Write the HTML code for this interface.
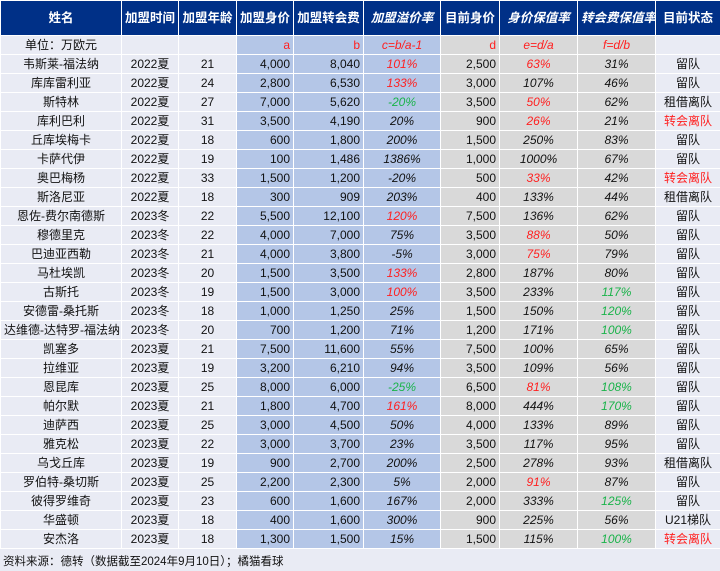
<!DOCTYPE html>
<html><head><meta charset="utf-8"><style>
html,body{margin:0;padding:0;width:720px;height:571px;overflow:hidden;background:#e9ebf4;}
table{border-collapse:collapse;table-layout:fixed;width:720px;font-family:"Liberation Sans","Noto Sans CJK SC",sans-serif;font-size:12px;color:#111;}
td,th{border:1px solid #fff;padding:0 3px;white-space:nowrap;overflow:hidden;height:18px;line-height:18px;}
th{background:#003087;color:#fff;font-weight:bold;height:34px;font-size:12.5px;}
th.i{font-style:italic}
td{text-align:center;background:#e9ebf4;}
td.a{background:#b4c6e7;text-align:right;}
td.c{background:#b4c6e7;text-align:center;font-style:italic;}
td.d{background:#d9d9d9;text-align:right;}
td.e{background:#d9d9d9;text-align:center;font-style:italic;}
.r{color:#ff2020}.g{color:#1ab34a}
.n{font-style:normal}
.foot{font-family:"Liberation Sans","Noto Sans CJK SC",sans-serif;font-size:11.5px;padding:4px 3px;color:#111;}
</style></head><body>
<table>
<colgroup><col style="width:121px"><col style="width:57px"><col style="width:58px"><col style="width:57px"><col style="width:70px"><col style="width:77px"><col style="width:59px"><col style="width:78px"><col style="width:78px"><col style="width:65px"></colgroup>
<tr><th>姓名</th><th>加盟时间</th><th>加盟年龄</th><th>加盟身价</th><th>加盟转会费</th><th class="i">加盟溢价率</th><th>目前身价</th><th class="i">身价保值率</th><th class="i">转会费保值率</th><th>目前状态</th></tr>
<tr><td>单位：万欧元</td><td></td><td></td><td class="a r">a</td><td class="a r">b</td><td class="c r">c=b/a-1</td><td class="d r">d</td><td class="e r">e=d/a</td><td class="e r">f=d/b</td><td></td></tr>
<tr><td>韦斯莱-福法纳</td><td>2022夏</td><td>21</td><td class="a">4,000</td><td class="a">8,040</td><td class="c r">101%</td><td class="d">2,500</td><td class="e r">63%</td><td class="e">31%</td><td>留队</td></tr>
<tr><td>库库雷利亚</td><td>2022夏</td><td>24</td><td class="a">2,800</td><td class="a">6,530</td><td class="c r">133%</td><td class="d">3,000</td><td class="e">107%</td><td class="e">46%</td><td>留队</td></tr>
<tr><td>斯特林</td><td>2022夏</td><td>27</td><td class="a">7,000</td><td class="a">5,620</td><td class="c g">-20%</td><td class="d">3,500</td><td class="e r">50%</td><td class="e">62%</td><td>租借离队</td></tr>
<tr><td>库利巴利</td><td>2022夏</td><td>31</td><td class="a">3,500</td><td class="a">4,190</td><td class="c">20%</td><td class="d">900</td><td class="e r">26%</td><td class="e">21%</td><td class="r">转会离队</td></tr>
<tr><td>丘库埃梅卡</td><td>2022夏</td><td>18</td><td class="a">600</td><td class="a">1,800</td><td class="c">200%</td><td class="d">1,500</td><td class="e">250%</td><td class="e">83%</td><td>留队</td></tr>
<tr><td>卡萨代伊</td><td>2022夏</td><td>19</td><td class="a">100</td><td class="a">1,486</td><td class="c">1386%</td><td class="d">1,000</td><td class="e">1000%</td><td class="e">67%</td><td>留队</td></tr>
<tr><td>奥巴梅杨</td><td>2022夏</td><td>33</td><td class="a">1,500</td><td class="a">1,200</td><td class="c">-20%</td><td class="d">500</td><td class="e r">33%</td><td class="e">42%</td><td class="r">转会离队</td></tr>
<tr><td>斯洛尼亚</td><td>2022夏</td><td>18</td><td class="a">300</td><td class="a">909</td><td class="c">203%</td><td class="d">400</td><td class="e">133%</td><td class="e">44%</td><td>租借离队</td></tr>
<tr><td>恩佐-费尔南德斯</td><td>2023冬</td><td>22</td><td class="a">5,500</td><td class="a">12,100</td><td class="c r">120%</td><td class="d">7,500</td><td class="e">136%</td><td class="e">62%</td><td>留队</td></tr>
<tr><td>穆德里克</td><td>2023冬</td><td>22</td><td class="a">4,000</td><td class="a">7,000</td><td class="c">75%</td><td class="d">3,500</td><td class="e r">88%</td><td class="e">50%</td><td>留队</td></tr>
<tr><td>巴迪亚西勒</td><td>2023冬</td><td>21</td><td class="a">4,000</td><td class="a">3,800</td><td class="c">-5%</td><td class="d">3,000</td><td class="e r">75%</td><td class="e">79%</td><td>留队</td></tr>
<tr><td>马杜埃凯</td><td>2023冬</td><td>20</td><td class="a">1,500</td><td class="a">3,500</td><td class="c r">133%</td><td class="d">2,800</td><td class="e">187%</td><td class="e">80%</td><td>留队</td></tr>
<tr><td>古斯托</td><td>2023冬</td><td>19</td><td class="a">1,500</td><td class="a">3,000</td><td class="c r">100%</td><td class="d">3,500</td><td class="e">233%</td><td class="e g">117%</td><td>留队</td></tr>
<tr><td>安德雷-桑托斯</td><td>2023冬</td><td>18</td><td class="a">1,000</td><td class="a">1,250</td><td class="c">25%</td><td class="d">1,500</td><td class="e">150%</td><td class="e g">120%</td><td>留队</td></tr>
<tr><td>达维德-达特罗-福法纳</td><td>2023冬</td><td>20</td><td class="a">700</td><td class="a">1,200</td><td class="c">71%</td><td class="d">1,200</td><td class="e">171%</td><td class="e g">100%</td><td>留队</td></tr>
<tr><td>凯塞多</td><td>2023夏</td><td>21</td><td class="a">7,500</td><td class="a">11,600</td><td class="c">55%</td><td class="d">7,500</td><td class="e">100%</td><td class="e">65%</td><td>留队</td></tr>
<tr><td>拉维亚</td><td>2023夏</td><td>19</td><td class="a">3,200</td><td class="a">6,210</td><td class="c">94%</td><td class="d">3,500</td><td class="e">109%</td><td class="e">56%</td><td>留队</td></tr>
<tr><td>恩昆库</td><td>2023夏</td><td>25</td><td class="a">8,000</td><td class="a">6,000</td><td class="c g">-25%</td><td class="d">6,500</td><td class="e r">81%</td><td class="e g">108%</td><td>留队</td></tr>
<tr><td>帕尔默</td><td>2023夏</td><td>21</td><td class="a">1,800</td><td class="a">4,700</td><td class="c r">161%</td><td class="d">8,000</td><td class="e">444%</td><td class="e g">170%</td><td>留队</td></tr>
<tr><td>迪萨西</td><td>2023夏</td><td>25</td><td class="a">3,000</td><td class="a">4,500</td><td class="c">50%</td><td class="d">4,000</td><td class="e">133%</td><td class="e">89%</td><td>留队</td></tr>
<tr><td>雅克松</td><td>2023夏</td><td>22</td><td class="a">3,000</td><td class="a">3,700</td><td class="c">23%</td><td class="d">3,500</td><td class="e">117%</td><td class="e">95%</td><td>留队</td></tr>
<tr><td>乌戈丘库</td><td>2023夏</td><td>19</td><td class="a">900</td><td class="a">2,700</td><td class="c">200%</td><td class="d">2,500</td><td class="e">278%</td><td class="e">93%</td><td>租借离队</td></tr>
<tr><td>罗伯特-桑切斯</td><td>2023夏</td><td>25</td><td class="a">2,200</td><td class="a">2,300</td><td class="c">5%</td><td class="d">2,000</td><td class="e r">91%</td><td class="e">87%</td><td>留队</td></tr>
<tr><td>彼得罗维奇</td><td>2023夏</td><td>23</td><td class="a">600</td><td class="a">1,600</td><td class="c">167%</td><td class="d">2,000</td><td class="e">333%</td><td class="e g">125%</td><td>留队</td></tr>
<tr><td>华盛顿</td><td>2023夏</td><td>18</td><td class="a">400</td><td class="a">1,600</td><td class="c">300%</td><td class="d">900</td><td class="e">225%</td><td class="e">56%</td><td>U21梯队</td></tr>
<tr><td>安杰洛</td><td>2023夏</td><td>18</td><td class="a">1,300</td><td class="a">1,500</td><td class="c n">15%</td><td class="d">1,500</td><td class="e n">115%</td><td class="e n g">100%</td><td class="r">转会离队</td></tr>
</table>
<div class="foot">资料来源：德转（数据截至2024年9月10日）；橘猫看球</div>
</body></html>
